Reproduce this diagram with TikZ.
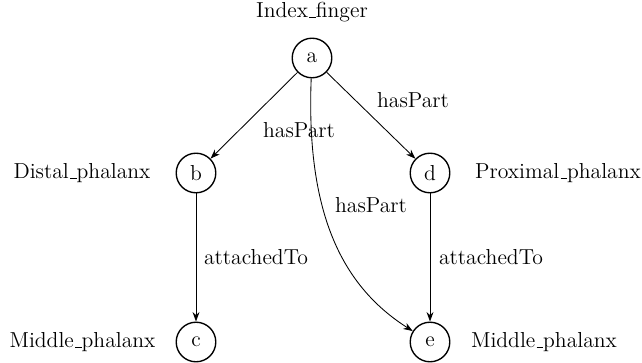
\documentclass[tikz,border=0pt]{standalone}
\usetikzlibrary{arrows.meta}
\newcommand\myus{\leavevmode\kern.06em\vbox{\hrule width.3em}}
\begin{document}
\begin{tikzpicture}[x=0.581pt,y=-0.581pt,
  font=\fontsize{12.6}{15}\selectfont,
  vnode/.style={circle,draw,line width=0.8pt,minimum size=23pt,inner sep=0pt},
  edge/.style={-{Stealth[length=5.5pt,width=4pt]},line width=0.5pt},
  lbl/.style={inner sep=0pt}]
\useasboundingbox (0,0) rectangle (642,363);
\node[vnode] (a) at (312,58) {a};
\node[vnode] (b) at (196,173) {b};
\node[vnode] (d) at (430,173) {d};
\node[vnode] (c) at (196,342) {c};
\node[vnode] (e) at (430,342) {e};
\node[lbl] (la) at (312,12) {Index\myus finger};
\node[lbl] (lb) at (82,173) {Distal\myus phalanx};
\node[lbl] (ld) at (558,173) {Proximal\myus phalanx};
\node[lbl] (lc) at (82.5,342) {Middle\myus phalanx};
\node[lbl] (le) at (544,342) {Middle\myus phalanx};
\draw[edge] (a) -- (b);
\draw[edge] (a) -- (d);
\draw[edge] (b) -- (c);
\draw[edge] (d) -- (e);
\draw[edge] (a) .. controls (306,210) and (340,285) .. (e);
\node[lbl] (h1) at (413,100) {hasPart};
\node[lbl] (h2) at (299,130) {hasPart};
\node[lbl] (h3) at (371,205) {hasPart};
\node[lbl] (t1) at (256,257) {attachedTo};
\node[lbl] (t2) at (491,257) {attachedTo};
\end{tikzpicture}
\end{document}
